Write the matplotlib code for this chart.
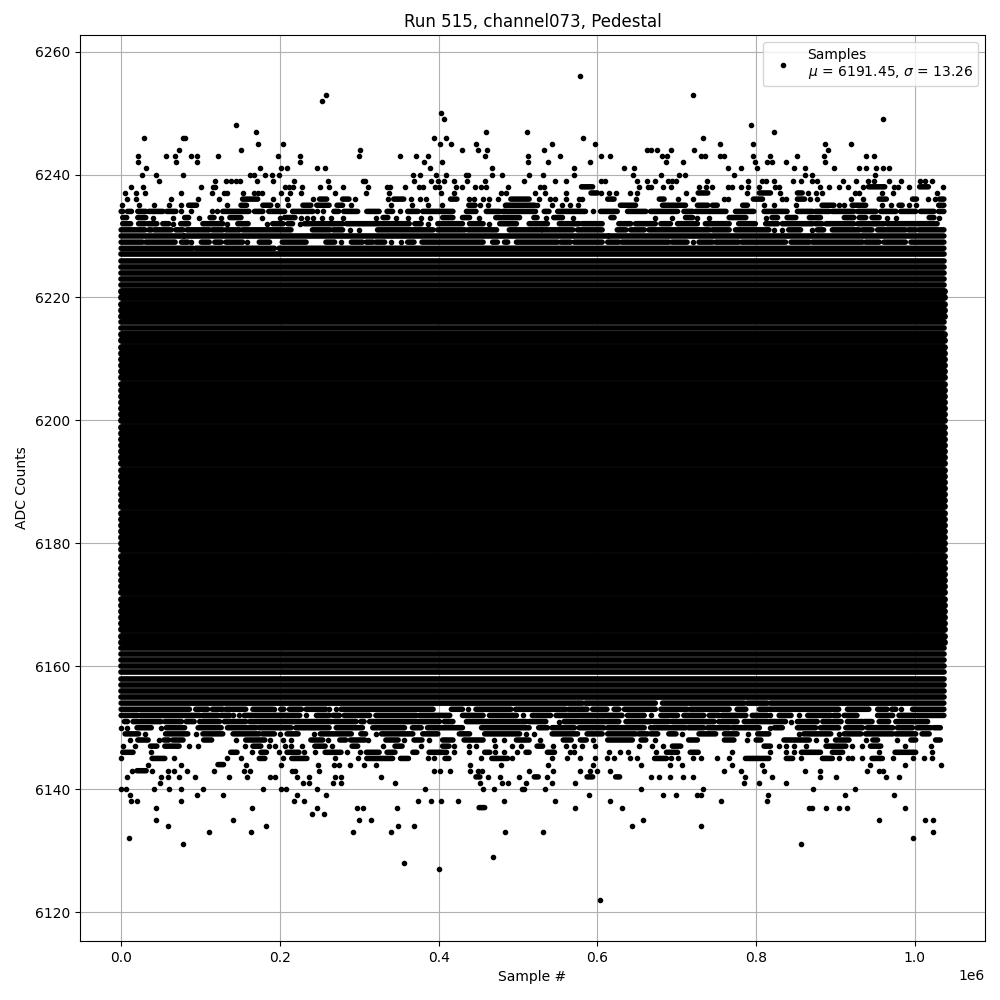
import matplotlib
matplotlib.use("Agg")
import matplotlib.pyplot as plt

# Values. x is in thousands of samples, y is ADC counts.
# A plain number is one sample; a pair is an unbroken run of overlapping samples.
TITLE = "Run 515, channel073, Pedestal"
X_LABEL = "Sample #"
Y_LABEL = "ADC Counts"
LEGEND_LABEL = "Samples\n$\\mu$ = 6191.45, $\\sigma$ = 13.26"
FIRST_SAMPLE = 0
LAST_SAMPLE = 1036.5

UPPER_ROWS = {
    6256: [578.5],
    6253: [258, 721],
    6252: [253],
    6250: [403],
    6249: [407, 960],
    6248: [144.5, 793],
    6247: [170, 459.5, 511, 822],
    6246: [28.5, 78, 80, 394, 409, 582, 733.5],
    6245: [173, 204, 401.5, 415, 447, 543, 597.5, 755, 796.5, 887, 919],
    6244: [73, 151, 301, 429, 449, 461, 533, 663, 668, 675.5, 693, 722, 890],
    6243: [21, 56, 68, 88, 95, 122, 197, 225, 299.5, 351, 371, 386, 458, 512, 553, 604, 616,
           681, 688, 731, 736, 755, 760, 796.5, 818, 851, 885, 938, 948],
    6242: [21, 69, 95, 225, 381, 404, 512, 538, 591, 686, 708, 799, 814, 820.5, 837, 887],
    6241: [31, 175, 201, 209, 246.5, 257, 389, 467, 571, 634, 646.5, 765, 781.5, 801.5, 848,
           862, 898.5, 930, 938, 951.5, 960, 968],
    6240: [26, 44, 78, 162, 167, 181, 190, 199.5, 367.5, 376, 396.5, 409, 435, 437, 467, 480,
           514, 532, 571, 645, 680.5, 703, 710, 772.5, 861, 871, 950],
    6239: [47.5, 118, 132, 139, 144.5, 149.5, 171, 191, 217.5, 260, 304.5, 307, 369, 390, 399,
           407, 419, 435.5, 459, 507, 547, 561, 605, 610, 650, 663, 672, 689.5, 694.5, 699.5,
           738.5, 790, 807, 813, 822, 847, 857, 871, 877, 910, 926, 941.5, 948, 967, 982,
           1007, 1013, 1021],
    6238: [12, 27, 100, 115.5, 118, 206, 211, 216, 228, 250, 262, 279, 311, 335, 338.5, 357,
           375, 380, 395, 400, 421.5, 429, 445.5, 453, 460, 487, 528, 533, (580, 594), 653,
           664, 668, 683, 693, 728.5, 737, 744, 764, 769, 781.5, 790, 803, 824, 829, 881,
           892, 905, 916, 934, (941.5, 962), 974, 979, 993, (1006, 1017), 1035],
    6237: [5, 18.5, 30, 76, 114, 129, 134, 153, 167, 172, 177, 202, 212.5, 226, 269, 308, 337,
           403, 419, 479, 485, 521, 534.5, 560, (592, 600), 605, 614, 624, 641.5, 650, 712,
           (727, 739), 788, (804, 818), 830.5, (852, 858), 865, 876, 883.5, 924, 929, 958,
           972, 1028],
    6236: [7, 18.5, 62.5, 96.5, 123, (153, 172), 191, 209, 241.5, (250, 259), (279, 287), 294,
           336, (343.5, 356), 365, 376, 384, (415, 423), 438, 444, 456, 463, 475, (491, 514),
           527, 540, 546, 560, 577, 581, (613, 621), 649, (678, 684), 702, 721, 759, 765,
           (796.5, 808), 833, 838, (852, 861), 868, 877, 920, 934, (955, 964), (997, 1002),
           1017, 1025, (1031, 1036.5)],
    6235: [1, 22, 42, 60, 75, (85, 95), 133, (151, 158), (178.5, 188.5), 196, 210, (229, 239),
           (246.5, 262), (272, 279), 289, 340, 366, 386, 404, (438, 446), 452, 462, 483,
           (485, 521), 524, 543, 555, 565, 576, (629, 648), (682, 711), (726, 739), (745, 751),
           (783, 789), 810, 823, 850, (883, 898), 904, 911, (921, 938), 959, 970, (980, 984),
           993, 1001, (1030, 1036.5)],
    6234: [(0, 2), (8, 13), (21, 31), (35, 52.5), (57.5, 69), 76, 88, 114, 120.5, (128, 161),
           (168, 178.5), (186, 206), (216, 241.5), 246.5, 254, (268, 274), (280.5, 298),
           (309.5, 325), (335, 342), 351, (361, 374), (380, 418), (435, 447), (460, 477),
           (481, 522), (533, 539), (550, 585), 594, (604, 625), (638, 661), (667, 701),
           (709, 720), (724, 762), (774, 797), (810, 839), (852, 871), (875, 892), (896, 923),
           (928, 951), (957, 976), (982, 1001), (1007, 1024), (1030, 1036.5)],
    6233: [(2, 7), (21, 31), 40, 65, (80, 85), 98, (112, 117), 126, (137, 151), 177, 200,
           (206, 219), 226, 234, 241.5, 253, 264, 279, 321, (330, 336), 346, 362, 378, 389,
           (405, 418), (430, 439), 451, (472, 502), (520, 524), 535, (545, 556), 569,
           (617, 621), 673, 694, (711, 720), 726, 741, (766, 787), 812, (820, 827), (839, 850),
           (867, 881), (911, 923), (930, 938), (946, 955), 965, 976, (1018, 1024), 1031],
    6232: [(2, 12), (22, 30), (34, 45), (52.5, 60), 65, (75, 85), (103, 128), 134, (147, 160),
           184, (191, 204), (210, 216), 225, (231, 279), (284, 363), (370, 378), 386, (399, 430),
           (439, 456), 464, (477, 498), (514, 537), (552, 577), (581, 606), (627, 642),
           (648, 673), (680, 692), (701, 726), (736, 766), (778, 799), (812, 827), (833, 871),
           (875, 883), (888, 923), (928, 961), (965, 1028)],
    6231: [(0, 30), (35, 38), (42, 63), (69, 78), (83, 111), (115, 128), (132, 149), (153, 214),
           (241, 263), (267, 279), 288, 300, (323, 393), (399, 433), (437, 473), (489, 529),
           (531, 569), (575, 606), (625, 636), (642, 659), (665, 741), (745, 766), (774, 816),
           823, 833, (841, 856), 871, (877, 885), (896, 930), (934, 946), (953, 988), (992, 1001),
           (1005, 1036.5)],
    6230: [(0, 78), (80, 613), (615, 1036.5)],
    6229: [(0, 27), (31, 68), (76, 84), 88, (101, 111), (118, 126), (132, 153), 158, (174, 187),
           (203, 233), (258, 269), 277, (290, 304), (309, 317), (321, 332), 340, 353, (361, 369),
           (379, 456), (468, 474), (483, 487), (498, 550), (554, 566), (571, 606), (613, 627),
           (631, 690), (694, 713), 720, (728, 745), (749, 778), (782, 837), (844, 867),
           (871, 934), (938, 955), (961, 988), (995, 1036.5)],
    6228: [(0, 90), (94, 193), (199, 309), (311, 1036.5)],
}

LOWER_ROWS = {
    6154: [(0, 581), (585, 673), (682, 785), (789, 814), (818, 1036.5)],
    6153: [(0, 86), (94, 109), (115, 128), (132, 157), (166, 191), 193, (201, 205), (212, 227),
           (233, 258), 262, 271, (277, 393), (416, 430), 437, (447, 491), (497, 560), (564, 587),
           (594, 612), (621, 627), (634, 673), (680, 713), (717, 766), (776, 787), (804, 904),
           (915, 942), (953, 965), (971, 976), 982, (997, 1036.5)],
    6152: [(0, 21), (24, 99), (103, 122), (126, 137), 141, 149, (155, 166), (168, 225), 233,
           (246, 262), (267, 275), (281, 313), (321, 372), (376, 414), (430, 456), (464, 498),
           506, (518, 541), (548, 631), (638, 659), 667, (680, 701), (709, 734), (741, 753),
           (757, 787), (795, 814), 818, (829, 844), 854, (865, 894), (898, 904), (911, 927),
           (953, 972), (980, 1001), (1003, 1036.5)],
    6151: [(4, 8), (15, 50), (55, 76), (82, 92), (99, 124), (130, 157), (162, 265), (269, 296),
           (302, 306), (313, 401), (407, 418), (435, 510), (514, 535), 552, (558, 577), (579, 610),
           (612, 627), (636, 667), (671, 690), (694, 747), (753, 776), (785, 837), 844, (852, 877),
           (884, 907), (915, 934), (936, 946), (955, 967), (976, 1016)],
    6150: [0, 7, (20, 38), 50, (57, 80), (97, 126), (134, 170), (174, 214), (220, 262), (271, 304),
           (317, 357), (367, 378), (386, 399), (401, 430), (454, 514), (526, 537), (543, 571),
           (577, 608), (613, 659), (667, 711), (715, 734), (739, 766), (770, 804), 817,
           (823, 833), (852, 875), (881, 904), (913, 934), (940, 972), (978, 997), (1003, 1020),
           (1024, 1032)],
    6149: [(5, 22), 30, (56, 84), 94.5, (103, 128), (141, 174), (178, 193), 200, (209, 223), 243,
           (251, 290), (302, 308), 321, (328, 367.5), (380, 399), (426, 439), (458, 502), 510,
           520, (543, 575), (587, 606), (613, 648), (652, 663), (667, 676), (690, 699), 707,
           (728, 749), (760, 776), 790, (802, 816), 854, (860, 894), 904, (911, 932), (938, 972),
           (976, 1001), (1009, 1018)],
    6148: [11, (21, 34), 47.5, (54, 60), (65, 78), (104, 114), 144.5, (157, 181), 187, 204, 214,
           (239, 254), 260, (275.5, 283), (289, 307), 311, (333.5, 349), 356, (369, 379), 388,
           (405, 418), (432, 456), 469.5, 482, (498, 514), 528, (557, 567), (578.5, 586), 594,
           (613, 644), (655, 661), 672, (715, 726), (760, 772), 789, (800, 806), (835, 867), 876,
           888.5, (900, 917), 938, (947, 953), 978, (995, 1001), (1026, 1032)],
    6147: [2, 17, (37, 45), (55, 73), 85, 96.5, 156, (166, 176), 186, 194, 206, 214, 228,
           (244, 257), 265.5, (291, 298), 330, (345, 354), 378, (405, 413), 419, 438, 447, 471,
           493, 503.5, (524, 531), 544.5, 560, 571, 581, 597.5, 652, 669, 683, (694.5, 705),
           (810, 818), 829, 838, 848, 863, (888, 913), 921, 933, (944, 957), 988, 1020],
    6146: [(2, 15), 37, (138, 146), 165, (176, 183), 199, (209, 224), 231, 244, (257, 277), 284,
           301, (309, 325), (335, 345), (367.5, 372.5), (388, 410), 419, 438, (458, 464.5), 471,
           482, 498.5, (510, 514), (537, 546), 565, 570, 615, 628, 638, 674, (687, 701), (717, 727),
           770, 818, 837, 848, (857, 881), (896, 909), 955, (975, 1001), 1021],
    6145: [0, (39, 55), 66, 133, 151, (174, 181), 204, (215, 234), 269, 298, (309.5, 342),
           (352, 362), 386, 394, (408, 413), 453, (467, 487), 493, 543, 562, 578.5, 597.5, 612.5,
           621, 641.5, 650, (672, 687), 693, 701, 720, 730, 751, 766, (786.5, 816), (838, 846),
           856, (883.5, 896), 904, 916, 921, 933, (946, 959), 972, 997, 1011, 1022],
    6144: [34, 76, (122, 129), 157, 201, 248, 268, 274, 288, 306, 321, 439, 478, 538, 594, 655,
           691, 706, 769, 808, 944, 987, 1033],
    6143: [13.5, (20, 31.5), 39, 59, 66, 83, 117, 154.5, 162, 215, 219, 249, 394, 401.5, 414, 439,
           449, 454, 514, 544.5, 578.5, 591, 600, 616, 760, 781.5, 810, 861, 881, 940, 955, 960],
    6142: [7, 50, 59, 73, 93, 136, 158, 187, 194, 221, 236.5, 269, 277, 327, (447, 452), 462, 477,
           501, (520.5, 525.5), 536, (587, 594), (623, 628), 668, 677, 691, 708, 720, 786.5, 820.5,
           880, 900, 963, 980.5],
    6141: [49, 229, 236.5, 267, 277, 345, 452, 480, 488, 510, 543, 572, 785, 803, 838],
    6140: [0, 6, 42, 60, 75, 103, 178.5, 201, 207.5, 246.5, 382.5, 456, 469.5, 505, 508, 534.5,
           655, 733.5, 872, 925],
    6139: [11, 95, 128, 221, 258, 589, 683, 699.5, 725, 730, 815.5, 912.5, 974],
    6138: [12, 20, 75, 217.5, 231, 374, 390, 403, 425, 482, 547, 616, 756, 814],
    6137: [44, 165, 246.5, 297, 304.5, 347, (451, 458), 572, 631.5, 866, 871, 888.5, 904, 914, 988],
    6136: [240, 255],
    6135: [44, 141, 299.5, 314.5, 657, 955, 1013, 1023],
    6134: [59, 182, 349, 369, 644, 730],
    6133: [110.5, 163, 292, 340, 483, 531, 1023],
    6132: [10, 998],
    6131: [78, 856],
    6129: [468],
    6128: [356],
    6127: [400],
    6122: [603],
}

# Fully covered levels: they read as one black band from the first to the last sample.
OPEN_BAND_LEVELS = [6155, 6156, 6157, 6158, 6159, 6160, 6161, 6162, 6163,
                    6215, 6216, 6222, 6223, 6224, 6225, 6226, 6227]
FILLED_BAND_LEVELS = list(range(6164, 6215)) + [6217, 6218, 6219, 6220, 6221]


def split_row(level, entries):
    """Turn one row into its single samples and its unbroken runs."""
    xs, ys, run_x, run_y = [], [], [], []
    for e in entries:
        if isinstance(e, tuple):
            run_x += [e[0] * 1000, e[1] * 1000, float("nan")]
            run_y += [level, level, float("nan")]
        else:
            xs.append(e * 1000)
            ys.append(level)
    return xs, ys, run_x, run_y


point_x, point_y, run_x, run_y = [], [], [], []
for rows in (UPPER_ROWS, LOWER_ROWS):
    for level, entries in rows.items():
        a, b, c, d = split_row(level, entries)
        point_x += a
        point_y += b
        run_x += c
        run_y += d

open_x, open_y = [], []
for level in OPEN_BAND_LEVELS:
    a, b, c, d = split_row(level, [(FIRST_SAMPLE, LAST_SAMPLE)])
    open_x += c
    open_y += d

fill_x, fill_y = [], []
for level in FILLED_BAND_LEVELS:
    a, b, c, d = split_row(level, [(FIRST_SAMPLE, LAST_SAMPLE)])
    fill_x += c
    fill_y += d

fig, ax = plt.subplots(figsize=(10, 10), dpi=100)
ax.plot(point_x, point_y, linestyle="none", marker=".", color="k", label=LEGEND_LABEL)
ax.plot(run_x, run_y, color="k", linewidth=4.0, solid_capstyle="round")
ax.plot(open_x, open_y, color="k", linewidth=4.1, solid_capstyle="round")
ax.plot(fill_x, fill_y, color="k", linewidth=5.0, solid_capstyle="round")
ax.set_title(TITLE)
ax.set_xlabel(X_LABEL)
ax.set_ylabel(Y_LABEL)
ax.grid(True)
ax.legend(loc="upper right")
fig.subplots_adjust(left=0.080, right=0.985, top=0.965, bottom=0.059)
fig.savefig("out.png", dpi=100)
